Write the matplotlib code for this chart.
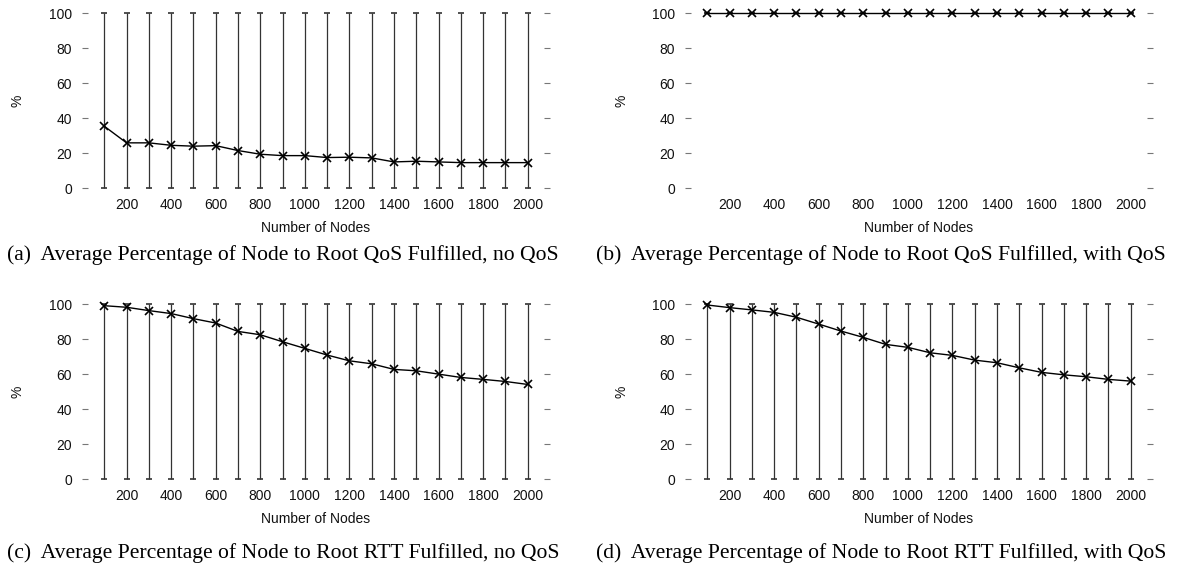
import matplotlib
matplotlib.use("Agg")
import matplotlib.pyplot as plt
import numpy as np

# ---- data ----
nodes = [100, 200, 300, 400, 500, 600, 700, 800, 900, 1000,
         1100, 1200, 1300, 1400, 1500, 1600, 1700, 1800, 1900, 2000]
xticks = [200, 400, 600, 800, 1000, 1200, 1400, 1600, 1800, 2000]
yticks = [0, 20, 40, 60, 80, 100]

qos_no_qos = [35.3, 25.8, 25.8, 24.4, 23.9, 24.2, 21.4, 19.3, 18.5, 18.5,
              17.4, 17.6, 17.2, 14.9, 15.3, 14.9, 14.5, 14.5, 14.5, 14.5]
qos_with_qos = [100, 100, 100, 100, 100, 100, 100, 100, 100, 100,
                100, 100, 100, 100, 100, 100, 100, 100, 100, 100]
rtt_no_qos = [99.2, 98.3, 96.4, 94.7, 91.8, 89.3, 84.5, 82.6, 78.6, 74.8,
              71.0, 67.7, 66.0, 62.8, 62.0, 60.1, 58.2, 57.1, 55.9, 54.2]
rtt_with_qos = [99.6, 98.1, 96.8, 95.4, 92.6, 88.7, 84.7, 81.1, 77.1, 75.4,
                72.3, 70.8, 68.1, 66.6, 63.7, 61.1, 59.7, 58.6, 57.1, 56.1]

# error-bar ranges (min / max per point)
err_min_a = [0] * 20
err_max_a = [100] * 20
err_min_b = [100] * 20
err_max_b = [100] * 20
err_min_c = [0] * 20
err_max_c = [100] * 20
err_min_d = [0] * 20
err_max_d = [100] * 20

captions = [
    "(a)  Average Percentage of Node to Root QoS Fulfilled, no QoS",
    "(b)  Average Percentage of Node to Root QoS Fulfilled, with QoS",
    "(c)  Average Percentage of Node to Root RTT Fulfilled, no QoS",
    "(d)  Average Percentage of Node to Root RTT Fulfilled, with QoS",
]
xlabel = "Number of Nodes"
ylabel = "%"

# ---- figure ----
W, H = 1187, 565
fig = plt.figure(figsize=(W / 100, H / 100), dpi=100)
sans = ["Liberation Sans", "DejaVu Sans"]
serif = ["Liberation Serif", "DejaVu Serif"]

panels = [
    (82, 188, qos_no_qos, err_min_a, err_max_a),
    (685, 188, qos_with_qos, err_min_b, err_max_b),
    (82, 479.3, rtt_no_qos, err_min_c, err_max_c),
    (685, 479.3, rtt_with_qos, err_min_d, err_max_d),
]
ax_w, ax_h = 468, 175

for left, bottom_px, vals, emin, emax in panels:
    ax = fig.add_axes([left / W, (H - bottom_px) / H, ax_w / W, ax_h / H])
    v = np.array(vals, dtype=float)
    lo = v - np.array(emin, dtype=float)
    hi = np.array(emax, dtype=float) - v
    eb = ax.errorbar(nodes, vals, yerr=[lo, hi], color="black", lw=1.0,
                     elinewidth=0.9, ecolor="#333333", capsize=2.2,
                     capthick=0.9, marker="x", markersize=5.5, mew=1.2,
                     zorder=3)
    for part in eb.get_children():
        part.set_clip_on(False)
    ax.set_xlim(0, 2100)
    ax.set_ylim(0, 100)
    ax.set_xticks(xticks)
    ax.set_yticks(yticks)
    for s in ax.spines.values():
        s.set_visible(False)
    ax.tick_params(axis="x", length=0, pad=7, labelsize=10)
    ax.tick_params(axis="y", direction="in", left=True, right=True,
                   length=4.5, width=0.8, color="#777777", pad=7.2,
                   labelsize=10)
    for lab in ax.get_xticklabels() + ax.get_yticklabels():
        lab.set_fontfamily(sans)
        lab.set_color("#111111")
    ax.set_xlabel(xlabel, fontfamily=sans, fontsize=10, va="center",
                  color="#111111")
    ax.xaxis.set_label_coords(0.5, -40 / ax_h)
    ax.set_ylabel(ylabel, fontfamily=sans, fontsize=10, va="center",
                  color="#111111")
    ax.yaxis.set_label_coords(-64 / ax_w, 0.5)
    ax.set_facecolor("none")

cap_pos = [(7, 255), (596, 255), (7, 553), (596, 553)]
for (cx, cy), txt in zip(cap_pos, captions):
    fig.text(cx / W, (H - cy) / H, txt, ha="left", va="center",
             fontfamily=serif, fontsize=15.6, color="black")

fig.savefig("out.png", dpi=100)
